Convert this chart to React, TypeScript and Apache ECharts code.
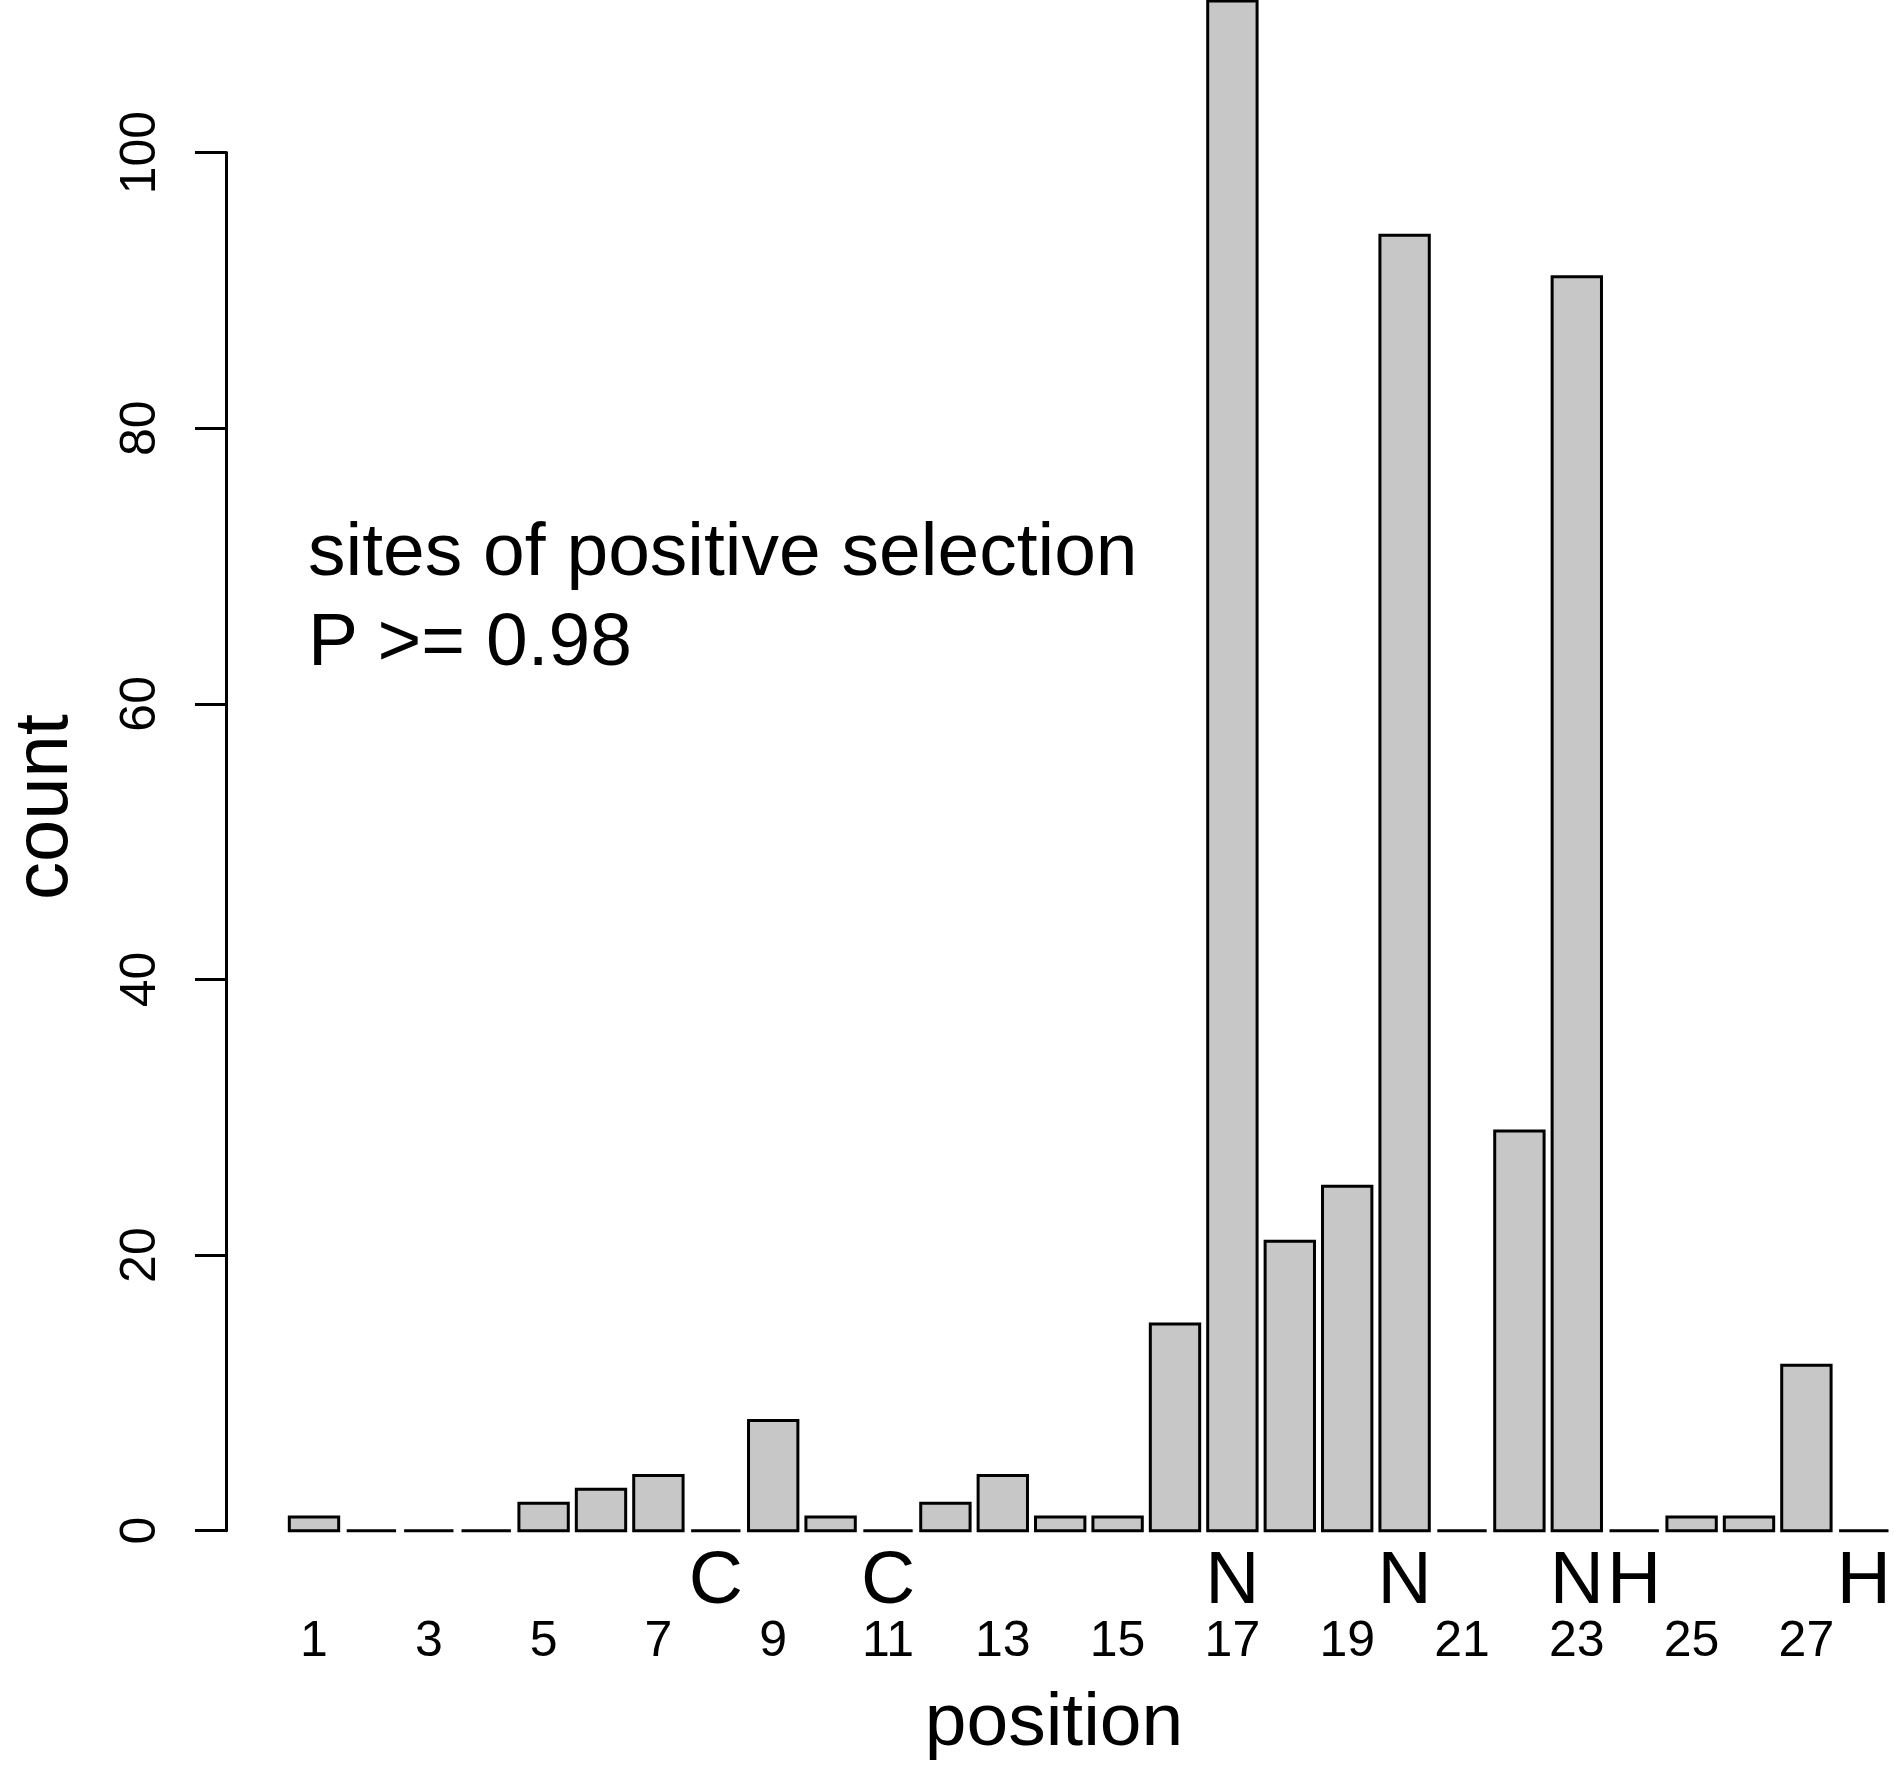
import React, { useEffect, useRef } from "react";
import * as echarts from "echarts";

const positions = ["1","2","3","4","5","6","7","8","9","10","11","12","13","14","15","16","17","18","19","20","21","22","23","24","25","26","27","28"];
const counts = [1, 0, 0, 0, 2, 3, 4, 0, 8, 1, 0, 2, 4, 1, 1, 15, 111, 21, 25, 94, 0, 29, 91, 0, 1, 1, 12, 0];
const residues = ["", "", "", "", "", "", "", "C", "", "", "C", "", "", "", "", "", "N", "", "", "N", "", "", "N", "H", "", "", "", "H"];
const yTicks = { min: 0, max: 100, interval: 20 };
const annotationLines = ["sites of positive selection", "P >= 0.98"];
const xTitle = "position";
const yTitle = "count";

const FONT = "'Liberation Sans', Arial, Helvetica, sans-serif";

export default function App() {
  const ref = useRef<HTMLDivElement>(null);
  useEffect(() => {
    if (!ref.current) return;
    const chart = echarts.init(ref.current, null, { renderer: "svg" });
    const axisY = 1530.7;
    const gridLeft = 285.3;
    const axisX = 226.7;
    chart.setOption({
      animation: false,
      backgroundColor: "#ffffff",
      grid: { left: gridLeft, right: 1.5, top: 152.6, bottom: 1770 - axisY, containLabel: false },
      xAxis: [
        {
          type: "category",
          data: positions,
          position: "bottom",
          axisLine: { show: false },
          axisTick: { show: false },
          axisLabel: {
            interval: 1,
            margin: 83,
            fontSize: 50,
            lineHeight: 50,
            fontFamily: FONT,
            color: "#000",
          },
        },
        {
          type: "category",
          data: residues,
          position: "bottom",
          gridIndex: 0,
          axisLine: { show: false },
          axisTick: { show: false },
          axisLabel: {
            interval: 0,
            margin: 9,
            fontSize: 75,
            lineHeight: 75,
            fontFamily: FONT,
            color: "#000",
          },
        },
      ],
      yAxis: {
        type: "value",
        min: yTicks.min,
        max: yTicks.max,
        interval: yTicks.interval,
        offset: gridLeft - axisX,
        splitLine: { show: false },
        axisLine: { show: true, lineStyle: { color: "#000", width: 3 } },
        axisTick: { show: true, length: 31.7, lineStyle: { color: "#000", width: 3 } },
        axisLabel: {
          rotate: 90,
          margin: 64,
          fontSize: 50,
          lineHeight: 50,
          fontFamily: FONT,
          color: "#000",
        },
      },
      series: [
        {
          type: "custom",
          xAxisIndex: 0,
          clip: false,
          data: counts.map((v, i) => [i, v]),
          renderItem: (params: any, api: any) => {
            const idx = api.value(0);
            const val = api.value(1);
            const base = api.coord([idx, 0]);
            const top = api.coord([idx, val]);
            const bw = api.size([1, 0])[0] * 0.86;
            return {
              type: "rect",
              shape: { x: base[0] - bw / 2, y: top[1], width: bw, height: base[1] - top[1] },
              style: { fill: "#c7c7c7", stroke: "#000", lineWidth: 3 },
            };
          },
        },
      ],
      graphic: [
        {
          type: "text",
          x: 308,
          y: 549,
          style: { text: annotationLines[0], font: `75px ${FONT}`, fill: "#000", align: "left", verticalAlign: "middle" },
        },
        {
          type: "text",
          x: 308,
          y: 639,
          style: { text: annotationLines[1], font: `75px ${FONT}`, fill: "#000", align: "left", verticalAlign: "middle" },
        },
        {
          type: "text",
          x: 1054,
          y: 1719.4,
          style: { text: xTitle, font: `75px ${FONT}`, fill: "#000", align: "center", verticalAlign: "middle" },
        },
        {
          type: "text",
          x: 40,
          y: 807,
          rotation: Math.PI / 2,
          style: { text: yTitle, font: `76px ${FONT}`, fill: "#000", align: "center", verticalAlign: "middle" },
        },
      ],
    });
    return () => chart.dispose();
  }, []);
  return (
    <div
      ref={ref}
      style={{ position: "absolute", left: 0, top: 0, width: 1894, height: 1770, background: "#fff" }}
    />
  );
}
